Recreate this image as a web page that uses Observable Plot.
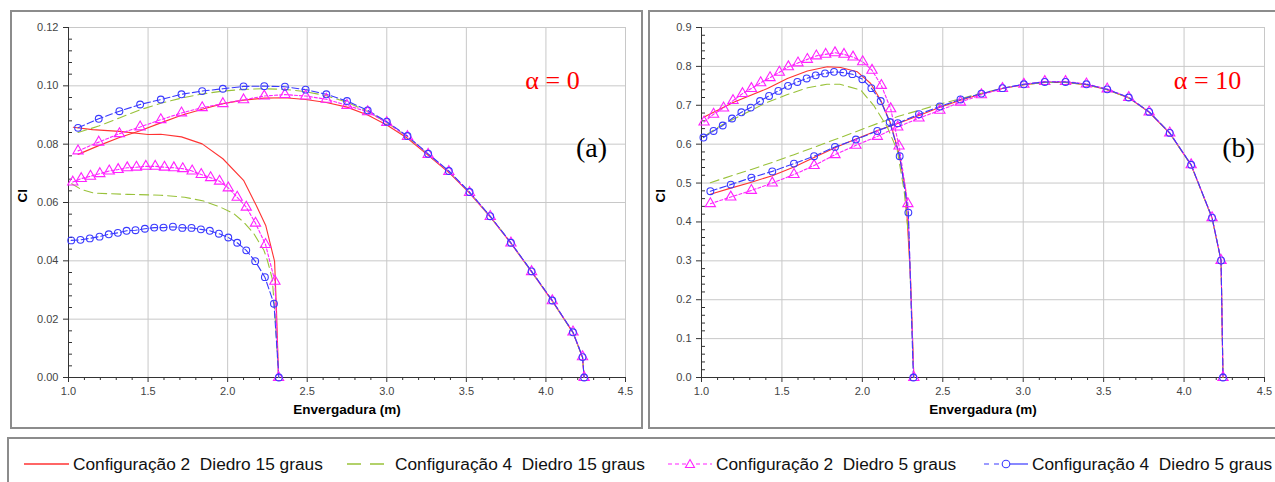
<!DOCTYPE html>
<html><head><meta charset="utf-8">
<script src="https://cdn.jsdelivr.net/npm/d3@7"></script>
<script src="https://cdn.jsdelivr.net/npm/@observablehq/plot@0.6"></script>
<style>
body{margin:0;background:#fff;font-family:"Liberation Sans",Arial,sans-serif;}
#root{position:relative;width:1275px;height:482px;overflow:hidden;background:#fff;}
.panel{position:absolute;border:2px solid #8c8c8c;box-sizing:border-box;}
.chart{position:absolute;top:0;}
.chart svg{display:block;background:transparent;}
.item{position:absolute;top:453px;height:22px;display:flex;align-items:center;white-space:pre;font-size:17.3px;color:#111;}
.item svg{margin-right:4px;}
</style></head><body>
<div id="root">
  <div class="panel" style="left:10px;top:10px;width:633px;height:419px"></div>
  <div class="panel" style="left:648px;top:10px;width:640px;height:419px"></div>
  <div class="panel" style="left:7px;top:437px;width:1300px;height:80px"></div>
  <div class="chart" id="pa" style="left:0px"></div>
  <div class="chart" id="pb" style="left:640px"></div>
</div>
<script>
// ---------- labels ----------
const seriesNames = ["Configuração 2  Diedro 15 graus","Configuração 4  Diedro 15 graus","Configuração 2  Diedro 5 graus","Configuração 4  Diedro 5 graus"];
const xLabel = "Envergadura (m)";
const yLabel = "Cl";
const panelNotes = ["α = 0", "α = 10"];
const panelTags = ["(a)", "(b)"];

// ---------- ticks ----------
const xTicks = [1.0,1.5,2.0,2.5,3.0,3.5,4.0,4.5];
const xMinor = [1.1,1.2,1.3,1.4,1.6,1.7,1.8,1.9,2.1,2.2,2.3,2.4,2.6,2.7,2.8,2.9,3.1,3.2,3.3,3.4,3.6,3.7,3.8,3.9,4.1,4.2,4.3,4.4];
const yTicksA = [0.00,0.02,0.04,0.06,0.08,0.10,0.12];
const yMinorA = [0.004,0.008,0.012,0.016,0.024,0.028,0.032,0.036,0.044,0.048,0.052,0.056,0.064,0.068,0.072,0.076,0.084,0.088,0.092,0.096,0.104,0.108,0.112,0.116];
const yTicksB = [0.0,0.1,0.2,0.3,0.4,0.5,0.6,0.7,0.8,0.9];
const yMinorB = [0.02,0.04,0.06,0.08,0.12,0.14,0.16,0.18,0.22,0.24,0.26,0.28,0.32,0.34,0.36,0.38,0.42,0.44,0.46,0.48,0.52,0.54,0.56,0.58,0.62,0.64,0.66,0.68,0.72,0.74,0.76,0.78,0.82,0.84,0.86,0.88];

// ---------- panel (a): alpha = 0 ----------
// long span (to 4.24 m)
const a_long_x = [1.06,1.19,1.32,1.45,1.58,1.71,1.84,1.97,2.10,2.23,2.36,2.49,2.62,2.75,2.88,3.00,3.13,3.26,3.39,3.52,3.65,3.78,3.91,4.04,4.17,4.23,4.24];
const a_c2d15_long_y = [0.0765,0.0795,0.0823,0.0846,0.0873,0.0899,0.0920,0.0939,0.0951,0.0958,0.0959,0.0953,0.0943,0.0927,0.0900,0.0866,0.0820,0.0762,0.0703,0.0632,0.0551,0.0460,0.0362,0.0262,0.0154,0.0068,0.0];
const a_c4d15_long_y = [0.0840,0.0862,0.0890,0.0918,0.0940,0.0958,0.0972,0.0982,0.0988,0.0990,0.0988,0.0980,0.0966,0.0944,0.0912,0.0874,0.0825,0.0765,0.0706,0.0634,0.0552,0.0461,0.0363,0.0263,0.0154,0.0069,0.0];
const a_c2d5_long_y  = [0.0777,0.0807,0.0836,0.0859,0.0884,0.0907,0.0925,0.0939,0.0952,0.0965,0.0970,0.0965,0.0954,0.0933,0.0911,0.0874,0.0826,0.0765,0.0706,0.0634,0.0552,0.0461,0.0363,0.0263,0.0156,0.0071,0.0];
const a_c4d5_long_y  = [0.0856,0.0887,0.0913,0.0936,0.0953,0.0971,0.0982,0.0990,0.0998,0.0999,0.0997,0.0987,0.0971,0.0948,0.0916,0.0877,0.0828,0.0767,0.0708,0.0636,0.0553,0.0462,0.0364,0.0264,0.0155,0.0070,0.0];
// short span (to 2.32 m)
const a_c2d15_short_x = [1.03,1.15,1.32,1.50,1.58,1.71,1.84,1.97,2.10,2.18,2.24,2.295,2.307,2.32];
const a_c2d15_short_y = [0.0858,0.0850,0.0844,0.0833,0.0834,0.0825,0.0801,0.0750,0.0676,0.0590,0.0520,0.0398,0.0230,0.0];
const a_c4d15_short_x = [1.02,1.08,1.16,1.37,1.58,1.73,1.85,1.955,2.04,2.10,2.165,2.228,2.25,2.28,2.30,2.32];
const a_c4d15_short_y = [0.0664,0.0645,0.0632,0.0628,0.0625,0.0618,0.0605,0.0584,0.0561,0.0533,0.0493,0.0436,0.0401,0.0339,0.0200,0.0];
const a_c2d5_short_x = [1.027,1.08,1.138,1.197,1.256,1.312,1.369,1.427,1.486,1.545,1.603,1.662,1.718,1.777,1.834,1.893,1.949,2.004,2.06,2.117,2.175,2.238,2.297,2.32];
const a_c2d5_short_y = [0.0670,0.0682,0.0690,0.0699,0.0708,0.0713,0.0719,0.0721,0.0724,0.0724,0.0721,0.0719,0.0716,0.0708,0.0696,0.0685,0.0673,0.0650,0.0618,0.0584,0.0529,0.0456,0.0330,0.0];
const a_c4d5_short_x = [1.017,1.075,1.134,1.195,1.253,1.31,1.365,1.421,1.48,1.539,1.597,1.656,1.715,1.773,1.832,1.888,1.945,2.004,2.06,2.117,2.173,2.234,2.291,2.322];
const a_c4d5_short_y = [0.0470,0.0472,0.0477,0.0483,0.0491,0.0496,0.0503,0.0505,0.0510,0.0514,0.0514,0.0517,0.0513,0.0513,0.0508,0.0503,0.0493,0.0480,0.0462,0.0436,0.0399,0.0344,0.0253,0.0];

// ---------- panel (b): alpha = 10 ----------
const b_long_x = [1.055,1.182,1.31,1.44,1.575,1.70,1.83,1.96,2.093,2.22,2.352,2.482,2.61,2.74,2.871,3.004,3.134,3.263,3.393,3.522,3.656,3.783,3.911,4.044,4.174,4.23,4.242];
const b_c2d15_long_y = [0.471,0.487,0.502,0.519,0.541,0.566,0.591,0.613,0.635,0.653,0.674,0.695,0.713,0.729,0.743,0.753,0.759,0.759,0.753,0.740,0.719,0.682,0.628,0.546,0.410,0.300,0.0];
const b_c4d15_long_y = [0.501,0.518,0.535,0.553,0.573,0.592,0.612,0.632,0.653,0.671,0.687,0.703,0.717,0.731,0.744,0.753,0.759,0.759,0.753,0.740,0.719,0.683,0.628,0.546,0.410,0.300,0.0];
const b_c2d5_long_y  = [0.447,0.464,0.481,0.500,0.522,0.545,0.573,0.597,0.620,0.644,0.667,0.687,0.708,0.727,0.743,0.754,0.761,0.761,0.755,0.742,0.720,0.683,0.629,0.547,0.411,0.301,0.0];
const b_c4d5_long_y  = [0.479,0.496,0.514,0.530,0.550,0.569,0.593,0.612,0.634,0.654,0.677,0.697,0.715,0.730,0.744,0.754,0.760,0.760,0.754,0.741,0.720,0.683,0.629,0.547,0.411,0.301,0.0];
const b_c2d15_short_x = [1.016,1.2,1.41,1.534,1.658,1.782,1.865,1.969,2.052,2.114,2.176,2.228,2.269,2.30,2.32];
const b_c2d15_short_y = [0.670,0.708,0.743,0.769,0.788,0.799,0.797,0.786,0.756,0.713,0.653,0.575,0.481,0.250,0.0];
const b_c4d15_short_x = [1.027,1.12,1.25,1.40,1.53,1.66,1.78,1.86,1.99,2.07,2.155,2.217,2.26,2.29,2.32];
const b_c4d15_short_y = [0.623,0.648,0.675,0.706,0.727,0.745,0.754,0.754,0.739,0.700,0.644,0.584,0.480,0.350,0.0];
const b_c2d5_short_x = [1.016,1.075,1.137,1.196,1.255,1.31,1.368,1.426,1.484,1.54,1.6,1.658,1.714,1.772,1.83,1.886,1.942,2.002,2.06,2.118,2.176,2.228,2.283,2.32];
const b_c2d5_short_y = [0.657,0.677,0.693,0.712,0.730,0.743,0.758,0.771,0.785,0.799,0.809,0.818,0.827,0.831,0.835,0.831,0.824,0.812,0.790,0.751,0.691,0.595,0.447,0.0];
const b_c4d5_short_x = [1.012,1.075,1.132,1.19,1.248,1.306,1.364,1.42,1.478,1.538,1.596,1.654,1.71,1.768,1.824,1.882,1.938,2.0,2.056,2.114,2.17,2.232,2.286,2.317];
const b_c4d5_short_y = [0.617,0.634,0.648,0.666,0.682,0.694,0.711,0.724,0.737,0.750,0.760,0.769,0.777,0.782,0.786,0.784,0.780,0.767,0.744,0.711,0.657,0.569,0.424,0.0];

// ---------- styles ----------
const styles = [
  {stroke:"#ff3333", dash:null, symbol:null},
  {stroke:"#99c23a", dash:"9,5", symbol:null},
  {stroke:"#ff22ff", dash:"3,2", symbol:"triangle"},
  {stroke:"#3a3aff", dash:"7,3", symbol:"circle"}
];

function rows(s, part, xs, ys){ return xs.map((x,i)=>({x, y:ys[i], s, part})); }

const dataA = [
  ...rows(0,"long",a_long_x,a_c2d15_long_y), ...rows(0,"short",a_c2d15_short_x,a_c2d15_short_y),
  ...rows(1,"long",a_long_x,a_c4d15_long_y), ...rows(1,"short",a_c4d15_short_x,a_c4d15_short_y),
  ...rows(2,"long",a_long_x,a_c2d5_long_y),  ...rows(2,"short",a_c2d5_short_x,a_c2d5_short_y),
  ...rows(3,"long",a_long_x,a_c4d5_long_y),  ...rows(3,"short",a_c4d5_short_x,a_c4d5_short_y)
];
const dataB = [
  ...rows(0,"long",b_long_x,b_c2d15_long_y), ...rows(0,"short",b_c2d15_short_x,b_c2d15_short_y),
  ...rows(1,"long",b_long_x,b_c4d15_long_y), ...rows(1,"short",b_c4d15_short_x,b_c4d15_short_y),
  ...rows(2,"long",b_long_x,b_c2d5_long_y),  ...rows(2,"short",b_c2d5_short_x,b_c2d5_short_y),
  ...rows(3,"long",b_long_x,b_c4d5_long_y),  ...rows(3,"short",b_c4d5_short_x,b_c4d5_short_y)
];

function seriesMarks(data){
  const out = [];
  styles.forEach((st, i) => {
    const d = data.filter(r => r.s === i);
    out.push(Plot.line(d, {x:"x", y:"y", z:"part", stroke:st.stroke, strokeWidth:1.1, strokeDasharray:st.dash}));
  });
  styles.forEach((st, i) => {
    if (!st.symbol) return;
    const d = data.filter(r => r.s === i);
    out.push(Plot.dot(d, {x:"x", y:"y", symbol:st.symbol, r: st.symbol==="triangle"?3.8:3.4, stroke:st.stroke, strokeWidth:1.1, fill:"none"}));
  });
  return out;
}

function makePanel({data, yTicks, yMinor, yFmt, width, marginLeft, marginRight, note, tag, noteDx, tagDx, ylabDx}){
  const gridStyle = {stroke:"#c8c8c8", strokeOpacity:1, strokeWidth:1};
  return Plot.plot({
    width, height:430, marginLeft, marginRight, marginTop:27, marginBottom:53,
    x:{domain:[xTicks[0], xTicks[xTicks.length-1]]},
    y:{domain:[yTicks[0], yTicks[yTicks.length-1]]},
    style:{fontFamily:"'Liberation Sans', Arial, sans-serif", fontSize:"11px", color:"#444", background:"transparent", overflow:"visible"},
    marks:[
      Plot.gridX(xTicks, gridStyle),
      Plot.gridY(yTicks, gridStyle),
      Plot.axisX(xTicks, {tickFormat:d3.format(".1f"), tickSize:5, tickPadding:5, label:null, stroke:"#333"}),
      Plot.axisX(xMinor, {tickFormat:()=>"", tickSize:3, label:null, stroke:"#333"}),
      Plot.axisY(yTicks, {tickFormat:d3.format(yFmt), tickSize:5, tickPadding:5, label:null, stroke:"#333"}),
      Plot.axisY(yMinor, {tickFormat:()=>"", tickSize:-4, label:null, stroke:"#333"}),
      Plot.ruleX([xTicks[0]], {stroke:"#333"}),
      Plot.ruleY([yTicks[0]], {stroke:"#333"}),
      ...seriesMarks(data),
      Plot.text([xLabel], {text:d=>d, frameAnchor:"bottom", dy:36, fontWeight:"bold", fontSize:13.5, fill:"#000"}),
      Plot.text([yLabel], {text:d=>d, frameAnchor:"left", dx:ylabDx, rotate:-90, fontWeight:"bold", fontSize:13.5, fill:"#000"}),
      Plot.text([note], {text:d=>d, frameAnchor:"top-right", dx:noteDx, dy:43, textAnchor:"middle", fontFamily:"'Liberation Serif', 'Times New Roman', serif", fontSize:26, fill:"#ff0000"}),
      Plot.text([tag], {text:d=>d, frameAnchor:"top-right", dx:tagDx, dy:110, textAnchor:"middle", fontFamily:"'Liberation Serif', 'Times New Roman', serif", fontSize:28, fill:"#000"})
    ]
  });
}

document.getElementById("pa").append(makePanel({data:dataA, yTicks:yTicksA, yMinor:yMinorA, yFmt:".2f", width:640, marginLeft:68, marginRight:15, note:panelNotes[0], tag:panelTags[0], noteDx:-73, tagDx:-34, ylabDx:-46}));
document.getElementById("pb").append(makePanel({data:dataB, yTicks:yTicksB, yMinor:yMinorB, yFmt:".1f", width:635, marginLeft:61, marginRight:11, note:panelNotes[1], tag:panelTags[1], noteDx:-57, tagDx:-26, ylabDx:-41}));

// ---------- legend ----------
const root = document.getElementById("root");
const itemLeft = [24, 347, 668, 984];
const ns = "http://www.w3.org/2000/svg";
function el(tag, attrs){ const e = document.createElementNS(ns, tag); for (const k in attrs) e.setAttribute(k, attrs[k]); return e; }
seriesNames.forEach((name, i) => {
  const st = styles[i];
  const div = document.createElement("div");
  div.className = "item";
  div.style.left = itemLeft[i] + "px";
  const W = i === 0 ? 45 : 44;
  const svg = el("svg", {width: W, height: 14});
  if (i === 0) {
    svg.append(el("line", {x1:0, x2:W, y1:7, y2:7, stroke:st.stroke, "stroke-width":1.3}));
  } else if (i === 1) {
    svg.append(el("line", {x1:0, x2:W, y1:7, y2:7, stroke:st.stroke, "stroke-width":1.3, "stroke-dasharray":"14,9"}));
  } else if (i === 2) {
    svg.append(el("line", {x1:0, x2:W, y1:7, y2:7, stroke:st.stroke, "stroke-width":1.2, "stroke-dasharray":"4,3"}));
    svg.append(el("path", {d:`M${W/2},2.5 L${W/2+4.5},10.5 L${W/2-4.5},10.5 Z`, fill:"#fff", stroke:st.stroke, "stroke-width":1.1}));
  } else {
    svg.append(el("line", {x1:0, x2:W/2, y1:7, y2:7, stroke:st.stroke, "stroke-width":1.2, "stroke-dasharray":"5,5"}));
    svg.append(el("line", {x1:W/2, x2:W, y1:7, y2:7, stroke:st.stroke, "stroke-width":1.2}));
    svg.append(el("circle", {cx:W/2, cy:7, r:3.8, fill:"#fff", stroke:st.stroke, "stroke-width":1.1}));
  }
  div.append(svg);
  const span = document.createElement("span");
  span.textContent = name;
  div.append(span);
  root.append(div);
});
</script>
</body></html>
